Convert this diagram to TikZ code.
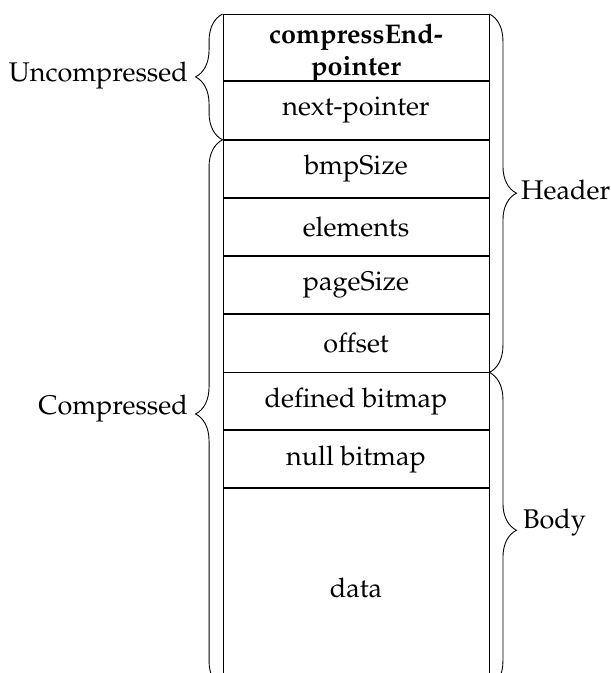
\documentclass[tikz,border=0pt]{standalone}
\usepackage[T1]{fontenc}
\usepackage{mathpazo}
\usetikzlibrary{decorations.pathreplacing}
\begin{document}
\begin{tikzpicture}[x=1pt,y=1pt,
  cell/.style={draw, line width=0.9pt, minimum width=266pt, inner sep=0pt,
    anchor=north, align=center, font=\fontsize{27}{30}\selectfont},
  lbl/.style={inner sep=0pt, font=\fontsize{27}{30}\selectfont},
  brc/.style={decorate, line width=0.9pt, decoration={brace, amplitude=27pt}}]
\useasboundingbox (0,0) rectangle (611,-673);
% memory layout of a page: one cell per field
\node[cell, minimum height=66pt]   (r1) at (356,-14)  {};
\node[cell, minimum height=58pt]   (r2) at (r1.south) {next-pointer};
\node[cell, minimum height=57pt]   (r3) at (r2.south) {bmpSize};
\node[cell, minimum height=57pt]   (r4) at (r3.south) {elements};
\node[cell, minimum height=57pt]   (r5) at (r4.south) {pageSize};
\node[cell, minimum height=58pt]   (r6) at (r5.south) {offset};
\node[cell, minimum height=57pt]   (r7) at (r6.south) {defined bitmap};
\node[cell, minimum height=57pt]   (r8) at (r7.south) {null bitmap};
\node[cell, minimum height=199pt]  (r9) at (r8.south) {data};
% two-line bold title of the first field, set a little low in its cell
\node[lbl, align=center, font=\fontsize{27}{32}\selectfont\bfseries] (r1t)
  at ([yshift=-5.5pt]r1.center) {compressEnd-\\pointer};
% left braces
\draw[brc] (r2.south west) -- (r1.north west);
\draw[brc] (r9.south west) -- (r3.north west);
% right braces
\draw[brc] (r1.north east) -- (r6.south east);
\draw[brc] (r7.north east) -- (r9.south east);
% brace labels
\node[lbl, anchor=east] (unc) at (188,-76)  {Uncompressed};
\node[lbl, anchor=east] (cmp) at (188,-409) {Compressed};
\node[lbl, anchor=west] (hdr) at (521,-190) {Header};
\node[lbl, anchor=west] (bdy) at (523,-523) {Body};
\end{tikzpicture}
\end{document}
